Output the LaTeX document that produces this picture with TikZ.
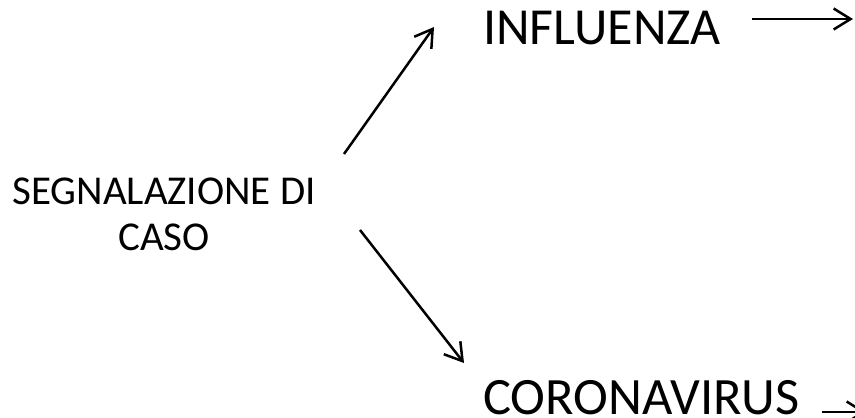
\documentclass[tikz,border=0pt]{standalone}
\usepackage{fontspec}
\setmainfont{Carlito}
\usetikzlibrary{arrows.meta}

\begin{document}
\begin{tikzpicture}[x=1pt, y=-1pt,
    arr/.style={line width=2.5pt, -{Straight Barb[length=17pt, width=21pt, line width=2.5pt]}}]
    \useasboundingbox (0,0) rectangle (855,418);

    % Left - the report
    \node[align=center, inner sep=0pt, font=\fontsize{41}{46}\selectfont] (segnalazione) at (164,214) {SEGNALAZIONE DI\\CASO};

    % Right - the two cases
    \node[anchor=base west, inner sep=0pt, font=\fontsize{52}{58}\selectfont] (influenza) at (483,44) {INFLUENZA};
    \node[anchor=base west, inner sep=0pt, font=\fontsize{52.5}{60}\selectfont] (coronavirus) at (483,414) {CORONAVIRUS};

    % Arrow ends
    \coordinate (upstart) at (344,154);
    \coordinate (uptip) at (434,27);
    \coordinate (downstart) at (360,230);
    \coordinate (downtip) at (464,363);
    \coordinate (influenzaout) at (853,19);
    \coordinate (coronavirusout) at (866,412);

    \draw[arr] (upstart) -- (uptip);
    \draw[arr] (downstart) -- (downtip);
    \draw[arr] ([xshift=31pt]influenza.base east |- influenzaout) -- (influenzaout);
    \draw[arr] ([xshift=22pt]coronavirus.base east |- coronavirusout) -- (coronavirusout);
\end{tikzpicture}
\end{document}
